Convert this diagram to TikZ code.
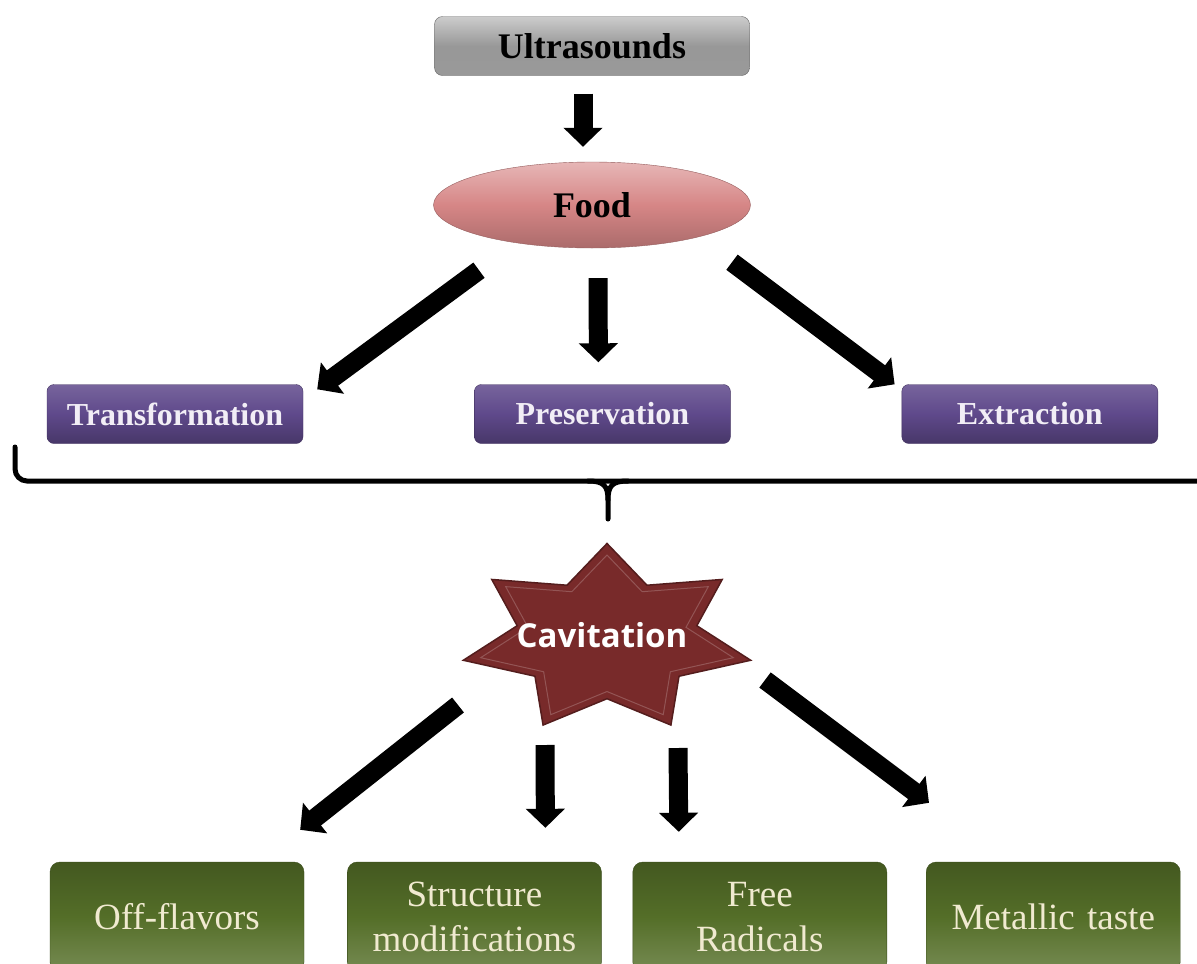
\documentclass[tikz,border=0pt]{standalone}
\usepackage{fontspec}
\setmainfont{Liberation Serif}
\newfontfamily\starfont{Open Sans}
\usetikzlibrary{shapes.geometric, arrows.meta, positioning, shapes}
\definecolor{usgray}{RGB}{152,152,152}
\definecolor{food}{RGB}{214,134,134}
\definecolor{usage}{RGB}{95,73,139}
\definecolor{cavity}{RGB}{120,42,42}
\definecolor{effect}{RGB}{84,110,40}
\definecolor{cream}{RGB}{240,234,208}
\definecolor{lavender}{RGB}{242,238,246}

\begin{document}
\begin{tikzpicture}[x=1pt, y=-1pt, node distance = 171pt, auto]
  \tikzstyle{topbox} = [rectangle, draw=black!60, top color=gray!40, bottom color=gray!80, middle color=usgray,
      text=black, rounded corners=8pt, minimum width=315pt, minimum height=59pt, font=\fontsize{36}{40}\selectfont\bfseries]
  \tikzstyle{foodball} = [ellipse, draw=food!70!black, top color=food!60!white, bottom color=food!80!black, middle color=food,
      text=black, minimum width=317pt, minimum height=86pt, inner sep=0pt, font=\fontsize{36}{40}\selectfont\bfseries]
  \tikzstyle{usebox} = [rectangle, draw=usage!70!black, top color=usage!85!white, bottom color=usage!75!black, middle color=usage,
      text=lavender, rounded corners=7pt, minimum width=256pt, minimum height=59pt, font=\fontsize{32}{36}\selectfont\bfseries]
  \tikzstyle{burst} = [star, star points=7, star point ratio=1.6, minimum size=191pt, inner sep=0pt,
      xscale=1.543, transform shape, draw=cavity!70!black, fill=cavity, line width=1.5pt]
  \tikzstyle{effectbox} = [rectangle, draw=effect!70!black, top color=effect!80!black, bottom color=effect!80!white, middle color=effect,
      text=cream, rounded corners=10pt, minimum width=254pt, minimum height=110pt, text width=246pt, align=center,
      font=\fontsize{37}{45}\selectfont]
  \tikzstyle{line} = [draw, line width=19pt, -{Triangle[width=38pt, length=19pt]}]
  \tikzstyle{bracket} = [draw, line width=5pt, rounded corners=12pt, line cap=round]

  \path [use as bounding box, fill=white] (0,0) rectangle (1197,964);
  \clip (0,0) rectangle (1197,964);

      % Place nodes
      \node [topbox] (us) at (592,46) {Ultrasounds};
      \node [foodball] (food) at (592,205) {Food};
      \node [usebox] (trans) at (175,414) {Transformation};
      \node [usebox, right=of trans] (pres) {Preservation};
      \node [usebox, right=of pres] (extr) {Extraction};
      \node [burst] (cavstar) at (607,639) {};
      \node [burst, minimum size=168pt, fill=none, draw=cavity!80!white, line width=1pt] at (cavstar) {};
      \node [text=white, font=\starfont\bfseries\fontsize{33}{38}\selectfont] (cav) at (602,635) {Cavitation};
      \node [effectbox] (off) at (177,917) {Off-flavors};
      \node [effectbox, right=43pt of off] (struct) {Structure\\modifications};
      \node [effectbox, right=31pt of struct] (free) {Free\\Radicals};
      \node [effectbox, right=39pt of free] (metal) {Metallic taste};

      % brace
      \coordinate (braceL) at (15,447);
      \coordinate (braceR) at (1210,447);
      \coordinate (braceTip) at (608,519);
      \path [bracket] (braceL) -- ++(0,34) -- ++(1195,0) -- (braceR);
      \path [bracket, rounded corners=0pt] (588,481) .. controls (604,481) and (608,486) .. (608,500) -- (braceTip);
      \path [bracket, rounded corners=0pt] (628,481) .. controls (612,481) and (608,486) .. (608,500);

  %paths
      \path [line] ([xshift=-9pt, yshift=-18pt]us.south) -- ([xshift=-9pt, yshift=15pt]food.north);
      \path [line] ([xshift=-113pt, yshift=-22pt]food.south) -- ([xshift=14pt, yshift=-5pt]trans.north east);
      \path [line] ([xshift=6pt, yshift=-30pt]food.south) -- ([xshift=-4pt, yshift=22pt]pres.north);
      \path [line] ([xshift=140pt, yshift=-14pt]food.south) -- ([xshift=-7pt, yshift=0pt]extr.north west);
      \path [line] ([xshift=-149pt, yshift=-66pt]cavstar.center) -- ([xshift=-4pt, yshift=32pt]off.north east);
      \path [line] ([xshift=-62pt, yshift=-106pt]cavstar.center) -- ([xshift=71pt, yshift=34pt]struct.north);
      \path [line] ([xshift=71pt, yshift=-109pt]cavstar.center) -- ([xshift=-81pt, yshift=30pt]free.north);
      \path [line] ([xshift=158pt, yshift=-41pt]cavstar.center) -- ([xshift=3pt, yshift=59pt]metal.north west);

\end{tikzpicture}
\end{document}
